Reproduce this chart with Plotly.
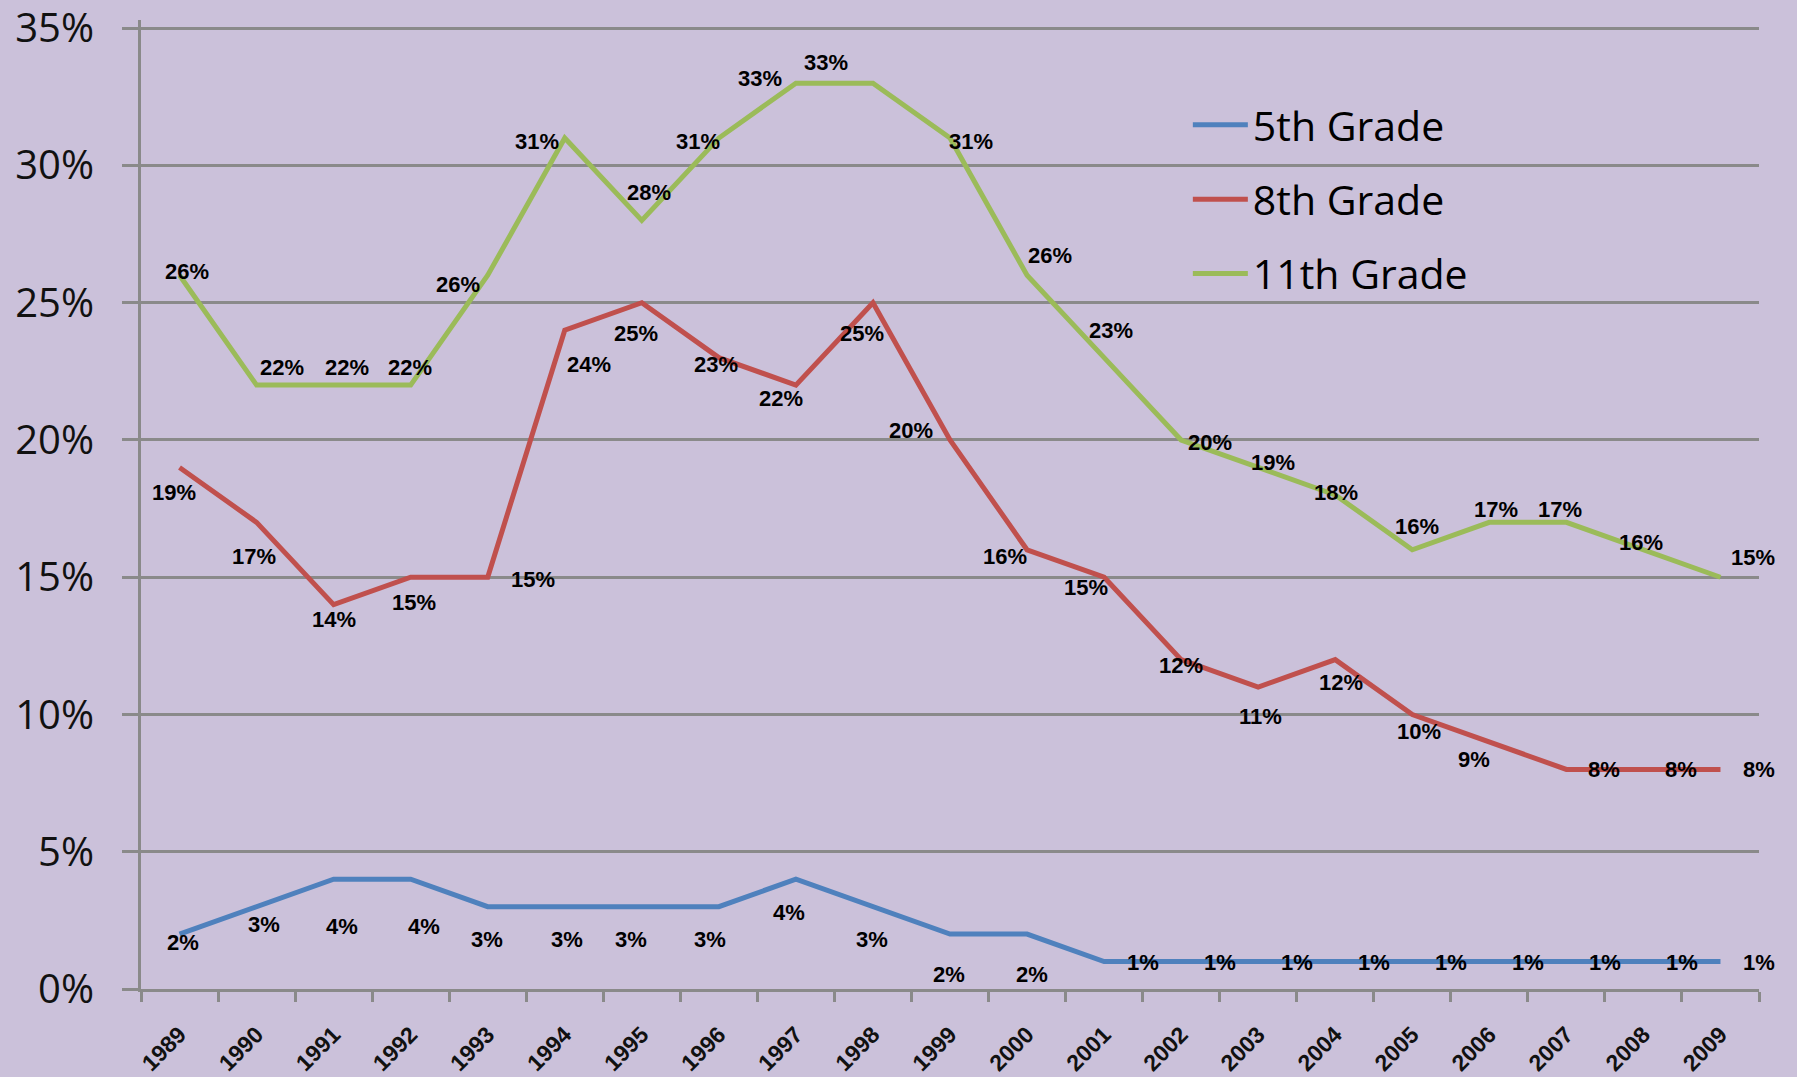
import plotly.graph_objects as go

years = [str(y) for y in range(1989, 2010)]
grade5 = [2, 3, 4, 4, 3, 3, 3, 3, 4, 3, 2, 2, 1, 1, 1, 1, 1, 1, 1, 1, 1]
grade8 = [19, 17, 14, 15, 15, 24, 25, 23, 22, 25, 20, 16, 15, 12, 11, 12, 10, 9, 8, 8, 8]
grade11 = [26, 22, 22, 22, 26, 31, 28, 31, 33, 33, 31, 26, 23, 20, 19, 18, 16, 17, 17, 16, 15]
series_names = ["5th Grade", "8th Grade", "11th Grade"]
y_ticks = [0, 5, 10, 15, 20, 25, 30, 35]

# label offsets in pixels (dx right, dy down) -- styling only
off5 = [(3, 8), (7, 18), (8, 47), (13, 47), (-1, 33), (2, 33), (-11, 33), (-9, 33), (-7, 33), (-1, 33),
        (-1, 40), (5, 40), (39, 1), (39, 1), (39, 1), (39, 1), (39, 1), (39, 1), (39, 1), (39, 1), (39, 1)]
off8 = [(-6, 25), (-3, 34), (0, 15), (3, 25), (45, 2), (24, 34), (-6, 31), (-3, 7), (-15, 13), (-11, 31),
        (-39, -9), (-22, 7), (-18, 10), (0, 6), (2, 29), (6, 23), (7, 17), (-15, 18), (38, 0), (38, 0), (39, 0)]
off11 = [(7, -4), (25, -18), (13, -18), (-1, -18), (-30, 9), (-28, 3), (7, -28), (-21, 3), (-36, -5), (-47, -21),
         (21, 3), (23, -20), (7, -27), (29, 3), (15, -5), (1, -2), (5, -23), (7, -13), (-6, -13), (-2, -7), (33, -20)]

colors = ["#4F81BD", "#C0504D", "#9BBB59"]
bg = "#CBC1DA"
grid = "#8A8A8A"

fig = go.Figure()
for name, vals, col in zip(series_names, [grade5, grade8, grade11], colors):
    fig.add_trace(go.Scatter(x=years, y=vals, mode="lines", name=name, legendgroup=name,
                             line=dict(color=col, width=5)))

annotations = []
for vals, offs in [(grade5, off5), (grade8, off8), (grade11, off11)]:
    for idx, (v, (dx, dy)) in enumerate(zip(vals, offs)):
        annotations.append(dict(x=idx, xref="x", y=v, yref="y", text=f"{v}%", showarrow=False,
                                xshift=dx, yshift=-dy,
                                font=dict(family="Liberation Sans", size=22, color="#000000", weight="bold"),
                                xanchor="center", yanchor="middle"))

fig.update_layout(
    width=1797, height=1077,
    margin=dict(l=141, r=38, t=20, b=88, autoexpand=False),
    paper_bgcolor=bg, plot_bgcolor=bg,
    showlegend=True,
    legend=dict(x=0.647, y=0.926, xanchor="left", yanchor="top", bgcolor="rgba(0,0,0,0)",
                font=dict(family="Open Sans", size=41, color="#000000"),
                traceorder="grouped", tracegroupgap=18, itemwidth=55),
    annotations=annotations,
)
fig.update_xaxes(type="category", range=[-0.5, 20.5], showgrid=False, showline=True, linecolor=grid, linewidth=3,
                 ticks="outside", tickson="boundaries", ticklen=10, tickwidth=3, tickcolor=grid,
                 tickangle=-45, ticklabelstandoff=20, automargin=False,
                 tickfont=dict(family="Liberation Sans", size=23, color="#111111", weight="bold"))
fig.update_yaxes(range=[0, 35.3], tickvals=y_ticks, ticktext=[f"{t}%" for t in y_ticks],
                 showgrid=True, gridcolor=grid, gridwidth=3, zeroline=False,
                 showline=True, linecolor=grid, linewidth=3, automargin=False,
                 ticks="outside", ticklen=16, tickwidth=3, tickcolor=grid, ticklabelstandoff=20,
                 ticklabeloverflow="allow",
                 tickfont=dict(family="Open Sans", size=40, color="#111111"))

fig.write_html("out.html", config={"displayModeBar": False},
               post_script="document.body.style.margin='0';document.body.style.overflow='hidden';")
